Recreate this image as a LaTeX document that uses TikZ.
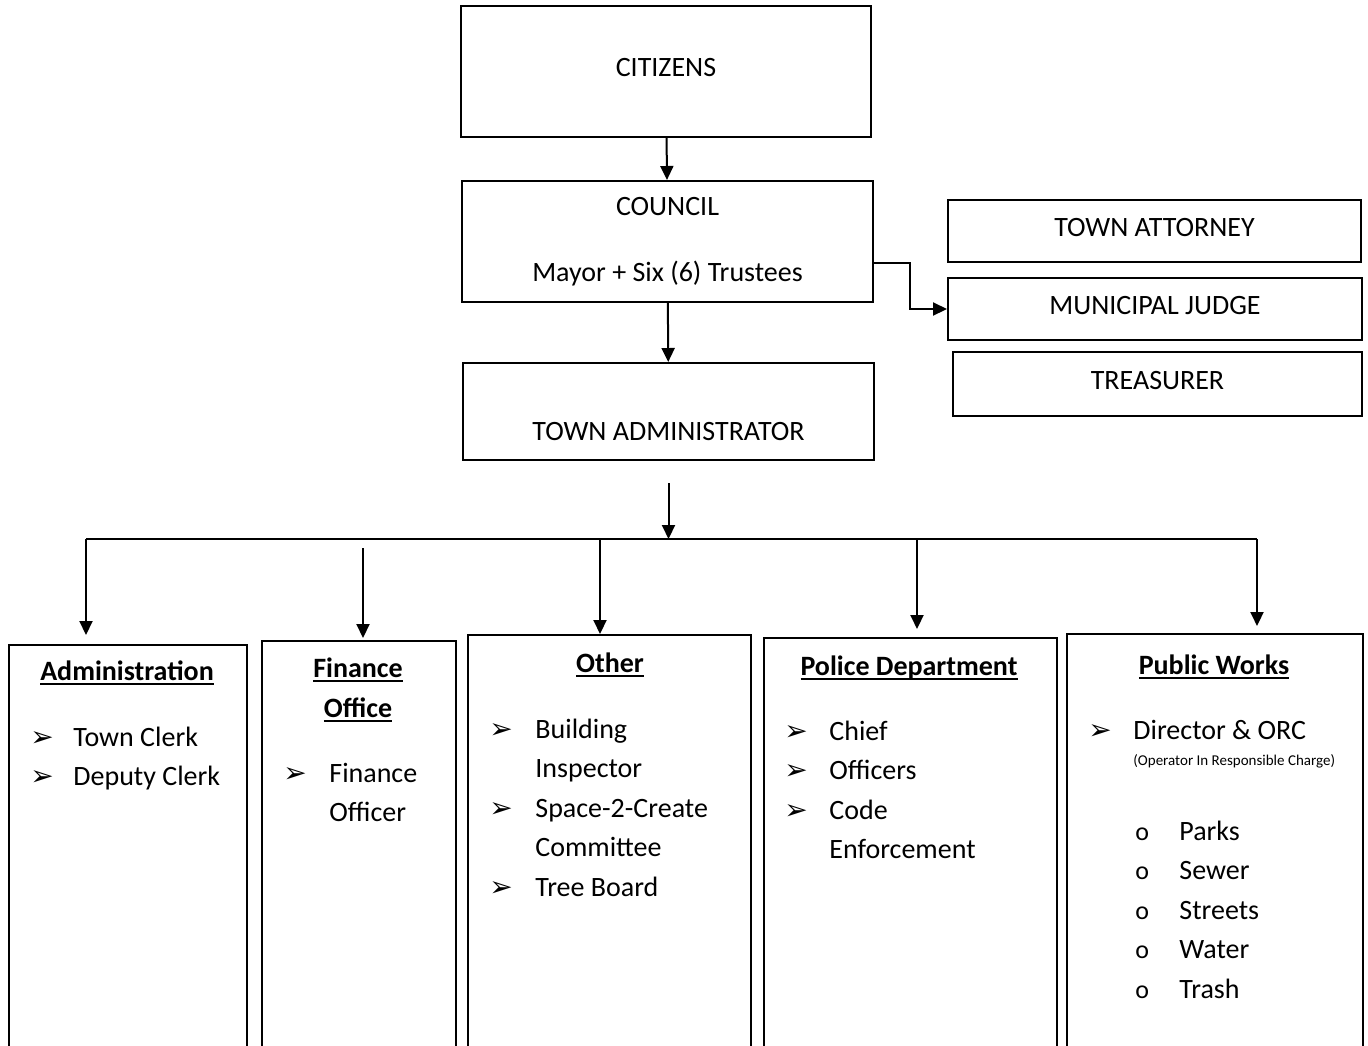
\documentclass[tikz,border=0pt]{standalone}
\usepackage{fontspec}
\setmainfont{Carlito}
\newfontfamily\dingfont{DejaVu Sans}
\usetikzlibrary{arrows.meta}
\usetikzlibrary{calc}
\newcommand{\arw}[1]{\makebox[#1][l]{\dingfont\fontsize{14}{14}\selectfont ➢}}
\newcommand{\rnd}{\makebox[22pt][l]{\fontsize{13}{13}\selectfont o}}
\newcommand{\uln}[1]{\leavevmode\setbox0\hbox{#1}\rlap{\rule[-2.6pt]{\wd0}{0.9pt}}\box0}
\tikzset{
	box/.style={draw,line width=1pt,inner sep=0pt},
	arr/.style={line width=1pt,-{Triangle[length=7pt,width=6.5pt]}},
	line/.style={line width=1pt},
	list/.style={anchor=base west,inner sep=0pt},
	ttl/.style={anchor=base,inner sep=0pt,font=\fontsize{14}{20}\selectfont\bfseries}
}
\begin{document}
\begin{tikzpicture}[x=0.5pt,y=-0.5pt,font=\fontsize{14}{19.75}\selectfont]
	\path[use as bounding box,fill=white] (0,0) rectangle (1368,1045);
	\node[box,minimum width=205pt,minimum height=65.5pt,text depth=4pt] (cit) at (666,71.5) {CITIZENS};
	\node[box,minimum width=205.5pt,minimum height=60.5pt,align=center] (cou) at (667.5,241.5) {COUNCIL\\[13pt]Mayor + Six (6) Trustees};
	\node[box,minimum width=205.5pt,minimum height=48.5pt] (adm) at (668.5,411.5) {};
	\node (admtxt) at ([yshift=-9.75pt]adm.center) {TOWN ADMINISTRATOR};
	\node[box,minimum width=206.5pt,minimum height=31pt,text depth=4pt] (att) at (1154.5,231) {TOWN ATTORNEY};
	\node[box,minimum width=207pt,minimum height=31pt,text depth=4pt] (jud) at (1155,309) {MUNICIPAL JUDGE};
	\node[box,minimum width=204.5pt,minimum height=32pt,text depth=4pt] (tre) at (1157.5,384) {TREASURER};
	\draw[arr] (cit) -- (cou);
	\draw[arr] (cou) -- (adm);
	\draw[arr] ([yshift=-10.75pt]cou.east) -- ++(36,0) |- (jud.west);
	% departments
	\node[box,minimum width=119pt,minimum height=207.5pt] (b1) at (128,852.5) {};
	\node[box,minimum width=97pt,minimum height=209.5pt] (b2) at (359,850.5) {};
	\node[box,minimum width=141.5pt,minimum height=212.5pt] (b3) at (609.5,847.5) {};
	\node[box,minimum width=146.5pt,minimum height=211pt] (b4) at (910.5,849) {};
	\node[box,minimum width=148pt,minimum height=213pt] (b5) at (1215,847) {};
	\coordinate (in) at ([yshift=-11pt]adm.south);
	\coordinate (d1) at (86,539);
	\coordinate (d2) at (363,548);
	\coordinate (d3) at (600,539);
	\coordinate (d4) at (917,539);
	\coordinate (d5) at (1257,539);
	\draw[arr] (in) -- (in |- d1);
	\draw[line] (d1) -- (d5);
	\draw[arr,shorten >=4.5pt] (d1) -- (d1 |- b1.north);
	\draw[arr,shorten >=1pt] (d2) -- (d2 |- b2.north);
	\draw[arr] (d3) -- (d3 |- b3.north);
	\draw[arr,shorten >=4pt] (d4) -- (d4 |- b4.north);
	\draw[arr,shorten >=3.5pt] (d5) -- (d5 |- b5.north);
	\node[ttl] (t1) at (127,680) {\uln{Administration}};
	\node[ttl] (t2) at (358,677) {\begin{tabular}[t]{@{}c@{}}\uln{Finance}\\\uln{Office}\end{tabular}};
	\node[ttl] (t3) at (610,672) {\uln{Other}};
	\node[ttl] (t4) at (909,675) {\uln{Police Department}};
	\node[ttl] (t5) at (1214,674) {\uln{Public Works}};
	\node[list] (l1) at (30,746) {\begin{tabular}[t]{@{}l@{}}\arw{21.5pt}Town Clerk\\\arw{21.5pt}Deputy Clerk\end{tabular}};
	\node[list] (l2) at (283,782) {\begin{tabular}[t]{@{}l@{}}\arw{23pt}Finance\\\hspace{23pt}Officer\end{tabular}};
	\node[list] (l3) at (489,738) {\begin{tabular}[t]{@{}l@{}}\arw{23pt}Building\\\hspace{23pt}Inspector\\\arw{23pt}Space-2-Create\\\hspace{23pt}Committee\\\arw{23pt}Tree Board\end{tabular}};
	\node[list] (l4) at (784,740) {\begin{tabular}[t]{@{}l@{}}\arw{22.5pt}Chief\\\arw{22.5pt}Officers\\\arw{22.5pt}Code\\\hspace{22.5pt}Enforcement\end{tabular}};
	\node[list] (l5) at (1088,739) {\arw{22.5pt}Director \& ORC};
	\node[list,font=\fontsize{7.5}{9}\selectfont] (l5n) at (1133,765) {(Operator In Responsible Charge)};
	\node[list] (l5s) at (1135,840) {\begin{tabular}[t]{@{}l@{}}\rnd Parks\\\rnd Sewer\\\rnd Streets\\\rnd Water\\\rnd Trash\end{tabular}};
\end{tikzpicture}
\end{document}
